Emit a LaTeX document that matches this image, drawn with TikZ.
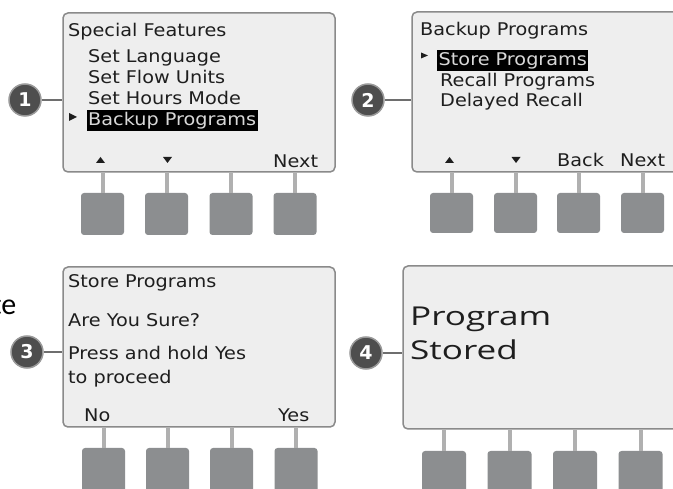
\documentclass[tikz,border=0pt]{standalone}
\usepackage{fontspec}
\setmainfont{DejaVu Sans}
\newfontfamily\lcdfont[FakeStretch=1.1]{DejaVu Sans}
\newfontfamily\bigfont[FakeStretch=1.35]{Open Sans}
\newfontfamily\sidefont{Carlito}
\definecolor{txt}{HTML}{1E1E1E}
\definecolor{hltxt}{HTML}{D8D8D8}
\definecolor{scrfill}{HTML}{EEEEEE}
\definecolor{scrborder}{HTML}{8A8A8A}
\definecolor{badgefill}{HTML}{4E4E4E}
\definecolor{badgerim}{HTML}{9A9A9A}
\definecolor{leadcol}{HTML}{6E6E6E}
\definecolor{btnfill}{HTML}{8C8E90}
\definecolor{stemcol}{HTML}{B0B0B0}
\tikzset{
  lcd/.style={font=\lcdfont\fontsize{17.5pt}{20pt}\selectfont, text=txt, inner sep=0pt, anchor=base west},
  hl/.style={lcd, fill=black, text=hltxt, inner xsep=1.5pt, inner ysep=1.5pt, text height=14pt, text depth=4pt},
  bigtxt/.style={font=\bigfont\fontsize{26pt}{30pt}\selectfont, text=txt, inner sep=0pt, anchor=base west},
  screen/.style={draw=scrborder, fill=scrfill, line width=1.5pt, rounded corners=5pt, inner sep=0pt},
  badge/.style={circle, fill=badgefill, draw=badgerim, line width=1.5pt, minimum size=32pt, inner sep=0pt, text=white, font=\bfseries\fontsize{19pt}{19pt}\selectfont},
  btn/.style={fill=btnfill, rounded corners=3pt, minimum width=43pt, minimum height=42pt, inner sep=0pt},
  stem/.style={draw=stemcol, line width=4pt},
  lead/.style={draw=leadcol, line width=1.3pt},
  pointer/.style={fill=txt},
}
\begin{document}
\begin{tikzpicture}[x=1pt,y=-1pt]
\useasboundingbox (0,0) rectangle (673,489);
\clip (0,0) rectangle (673,489);
\fill[white] (0,0) rectangle (673,489);

% ---------- side text (cut off) ----------
\node[font=\sidefont\fontsize{30pt}{30pt}\selectfont, text=black, anchor=base east, inner sep=0pt] (side) at (16.5,315) {te};

% ---------- panel 1 ----------
\node[screen, minimum width=272pt, minimum height=159pt] (s1) at (199,92.5) {};
\node[badge] (c1) at (25,100) {1};
\draw[lead] (c1.east) -- (c1.east -| s1.west);
\node[lcd] (p1t) at (68,36.5) {Special Features};
\node[lcd] (p1a) at (88,62.5) {Set Language};
\node[lcd] (p1b) at (88,83.5) {Set Flow Units};
\node[lcd] (p1c) at (88,104.5) {Set Hours Mode};
\node[hl] (p1d) at (86.5,126) {Backup Programs};
\fill[pointer] (69,113) -- (77,117) -- (69,121) -- cycle;
\fill[pointer] (96,163) -- (100.5,157) -- (105,163) -- cycle;
\fill[pointer] (163,157) -- (172,157) -- (167.5,163) -- cycle;
\node[lcd] (p1n) at (273,168) {Next};
\foreach \i/\x in {1/102.5,2/166.5,3/231,4/295}{
  \node[btn] (b1\i) at (\x,214) {};
  \draw[stem] (b1\i.north) -- (b1\i.north |- s1.south);
}

% ---------- panel 2 ----------
\node[screen, minimum width=278pt, minimum height=160pt] (s2) at (551,92) {};
\node[badge] (c2) at (368,100) {2};
\draw[lead] (c2.east) -- (c2.east -| s2.west);
\node[lcd] (p2t) at (420,36) {Backup Programs};
\node[hl] (p2a) at (437,66) {Store Programs};
\node[lcd] (p2b) at (440,87) {Recall Programs};
\node[lcd] (p2c) at (440,107) {Delayed Recall};
\fill[pointer] (421,52.5) -- (428,55.5) -- (421,58.5) -- cycle;
\fill[pointer] (445,163) -- (449.5,157) -- (454,163) -- cycle;
\fill[pointer] (511.5,157) -- (520.5,157) -- (516,163) -- cycle;
\node[lcd] (p2k) at (557,167) {Back};
\node[lcd] (p2n) at (620,167) {Next};
\foreach \i/\x in {1/451.5,2/515.5,3/578.5,4/642.5}{
  \node[btn, minimum height=40pt] (b2\i) at (\x,213) {};
  \draw[stem] (b2\i.north) -- (b2\i.north |- s2.south);
}

% ---------- panel 3 ----------
\node[screen, minimum width=272pt, minimum height=160pt] (s3) at (199,347) {};
\node[badge] (c3) at (27,352) {3};
\draw[lead] (c3.east) -- (c3.east -| s3.west);
\node[lcd] (p3t) at (68,288) {Store Programs};
\node[lcd] (p3a) at (68,327) {Are You Sure?};
\node[lcd] (p3b) at (68,360) {Press and hold Yes};
\node[lcd] (p3c) at (68,384) {to proceed};
\node[lcd] (p3n) at (84,422) {No};
\node[lcd] (p3y) at (278,422) {Yes};
\foreach \i/\x in {1/103.5,2/167.5,3/231.5,4/296}{
  \node[btn, minimum height=46pt] (b3\i) at (\x,471) {};
  \draw[stem] (b3\i.north) -- (b3\i.north |- s3.south);
}

% ---------- panel 4 ----------
\node[screen, minimum width=287pt, minimum height=163pt] (s4) at (546.5,347.5) {};
\node[badge] (c4) at (366,353) {4};
\draw[lead] (c4.east) -- (c4.east -| s4.west);
\node[bigtxt] (p4a) at (410,326) {Program};
\node[bigtxt] (p4b) at (410,360) {Stored};
\foreach \i/\x in {1/444,2/509.5,3/575,4/640.5}{
  \node[btn, minimum width=44pt, minimum height=46pt] (b4\i) at (\x,474) {};
  \draw[stem] (b4\i.north) -- (b4\i.north |- s4.south);
}
\end{tikzpicture}
\end{document}
